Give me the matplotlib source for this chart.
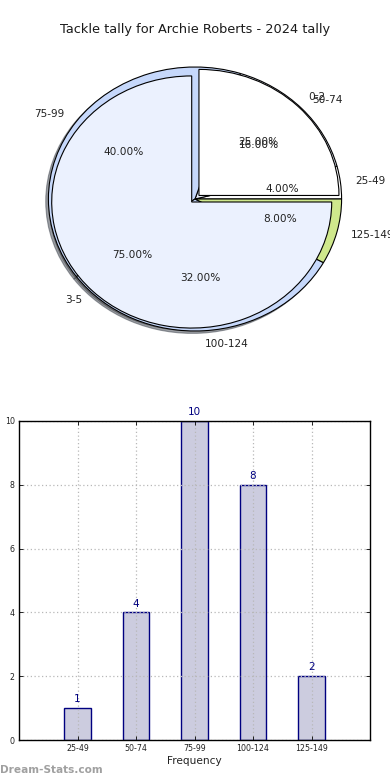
import matplotlib
matplotlib.use("Agg")
import matplotlib.pyplot as plt
import numpy as np

# ---- data ----
title = "Tackle tally for Archie Roberts - 2024 tally"
pie_a_labels = ["0-2", "3-5"]
pie_a_values = [1, 3]
pie_b_labels = ["25-49", "50-74", "75-99", "100-124", "125-149"]
pie_b_values = [1, 4, 10, 8, 2]
bar_categories = ["25-49", "50-74", "75-99", "100-124", "125-149"]
bar_values = [1, 4, 10, 8, 2]
y_ticks = [0, 2, 4, 6, 8, 10]
x_label = "Frequency"
y_label = "Number of Games"
watermark = "Dream-Stats.com"

pie_a_colors = ["#ffffff", "#ebf1fe"]
pie_b_colors = ["#ffffff", "#ebf1fe", "#c6d8fb", "#c6d8fb", "#cfe88c"]

W, H = 390, 780
fig = plt.figure(figsize=(W / 100, H / 100), dpi=100)

fig.text(0.5, 1 - 30 / H, title, ha="center", va="center", fontsize=9.3, color="#1a1a1a")

# ---- pie axes ----
axp = fig.add_axes([11.75 / W, 1 - 364 / H, 366.5 / W, 330 / H])
wp = {"edgecolor": "black", "linewidth": 0.8}
tp = {"fontsize": 7.6, "color": "#222222"}
shad = {"ox": -0.013, "oy": -0.013}
axp.pie(pie_b_values, labels=pie_b_labels, colors=pie_b_colors, autopct="%1.2f%%",
        shadow=shad, startangle=0, wedgeprops=wp, textprops=tp, radius=1.0,
        center=(0, 0))
axp.pie(pie_a_values, labels=pie_a_labels, colors=pie_a_colors, autopct="%1.2f%%",
        shadow=shad, startangle=0, explode=[0.07, 0], wedgeprops=wp, textprops=tp,
        radius=0.955, center=(-0.0225, -0.0227))
axp.set_aspect("auto")
axp.set_xlim(-1.25, 1.25)
axp.set_ylim(-1.25, 1.25)
axp.axis("off")

# ---- bar axes ----
axb = fig.add_axes([19 / W, 1 - 740 / H, 351 / W, 319 / H])
x = np.arange(len(bar_categories))
axb.bar(x, bar_values, width=0.45, color="#ccccdf", edgecolor="#000080", linewidth=1.0,
        zorder=1)
for xi, v in zip(x, bar_values):
    axb.text(xi, v + 0.12, str(v), ha="center", va="bottom", color="#000080", fontsize=7.5)
axb.set_xlim(-1, 5)
axb.set_ylim(0, 10)
axb.set_xticks(x)
axb.set_xticklabels(bar_categories, fontsize=5.7, color="#222222")
axb.set_yticks(y_ticks)
axb.set_yticklabels([str(t) for t in y_ticks], fontsize=5.7, color="#222222")
axb.tick_params(direction="in", top=True, right=True, length=3, width=0.6, pad=3)
axb.set_axisbelow("line")
axb.grid(True, linestyle=(0, (1, 2)), color="#b8b8b8", linewidth=0.9)
for s in axb.spines.values():
    s.set_linewidth(1.0)
    s.set_color("black")
    s.set_zorder(3)
axb.set_xlabel(x_label, fontsize=7.6, labelpad=2, color="#222222")

fig.text(3 / W, 1 - 578 / H, y_label, rotation=90, ha="right", va="center",
         fontsize=6, color="#222222")
fig.text(0, 1 - 770 / H, watermark, ha="left", va="center", fontsize=7.6,
         fontweight="bold", color="#a0a0a0")

fig.savefig("out.png", dpi=100)
